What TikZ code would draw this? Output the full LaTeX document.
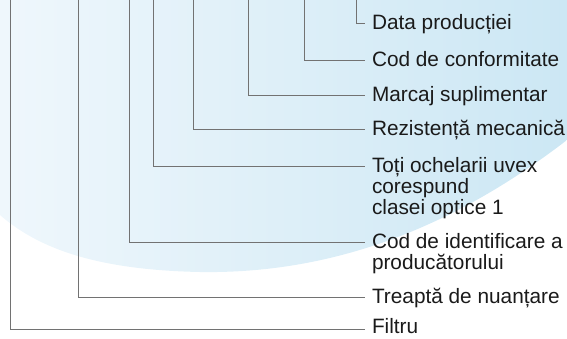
\documentclass[tikz,border=0pt]{standalone}
\usepackage{fontspec}
\setmainfont{Liberation Sans}
\begin{document}
\begin{tikzpicture}[x=1pt,y=-1pt,
  conn/.style={draw=lineg,line width=0.8pt},
  lbl/.style={inner sep=0pt,outer sep=0pt,anchor=base west,align=left,text=txt,
    font=\fontsize{20.8}{21}\selectfont}]
\definecolor{lineg}{HTML}{727272}
\definecolor{txt}{HTML}{1A1A1A}
\definecolor{bgl}{HTML}{EFF7FC}
\definecolor{bgr}{HTML}{CCE7F4}
\useasboundingbox (0,0) rectangle (567,338);
\shade[left color=bgl,right color=bgr]
  (0,0) -- (0,215) .. controls (40,250) and (100,270) .. (200,272)
  .. controls (330,274) and (450,230) .. (567,140) -- (567,0) -- cycle;
% top coordinates
\coordinate (t1) at (356,0);
\coordinate (t2) at (304,0);
\coordinate (t3) at (248,0);
\coordinate (t4) at (193,0);
\coordinate (t5) at (153,0);
\coordinate (t6) at (129,0);
\coordinate (t7) at (78,0);
\coordinate (t8) at (10,0);
% line ends
\coordinate (e1) at (365,23);
\coordinate (e2) at (365,60);
\coordinate (e3) at (365,95);
\coordinate (e4) at (365,129);
\coordinate (e5) at (365,166);
\coordinate (e6) at (365,242);
\coordinate (e7) at (365,297);
\coordinate (e8) at (365,329.5);
% labels
\node[lbl] (l1) at (372,29.5) {Data producției};
\node[lbl] (l2) at (372,66.5) {Cod de conformitate};
\node[lbl] (l3) at (372,101.5) {Marcaj suplimentar};
\node[lbl] (l4) at (372,135.5) {Rezistență mecanică};
\node[lbl] (l5) at (372,172.5) {\vtop{\hbox{Toți ochelarii uvex}\hbox{corespund}\hbox{clasei optice 1}}};
\node[lbl] (l6) at (372,248.5) {\vtop{\hbox{Cod de identificare a}\hbox{producătorului}}};
\node[lbl] (l7) at (372,303.5) {Treaptă de nuanțare};
\node[lbl] (l8) at (372,333.5) {Filtru};
% connectors
\draw[conn] (t1) |- (e1);
\draw[conn] (t2) |- (e2);
\draw[conn] (t3) |- (e3);
\draw[conn] (t4) |- (e4);
\draw[conn] (t5) |- (e5);
\draw[conn] (t6) |- (e6);
\draw[conn] (t7) |- (e7);
\draw[conn] (t8) |- (e8);
\end{tikzpicture}
\end{document}
